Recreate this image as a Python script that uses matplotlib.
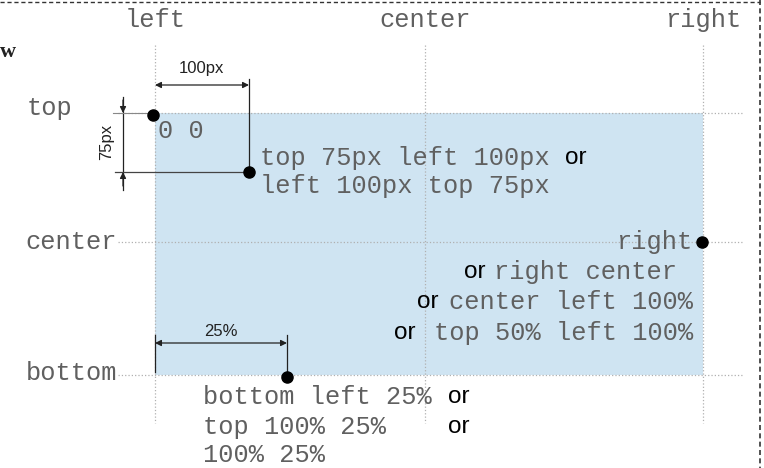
import matplotlib
matplotlib.use("Agg")
import matplotlib.pyplot as plt

# ---- diagram data (pixel space of the 764x468 canvas) ----
col_labels = ["left", "center", "right"]
col_x = [155, 425, 703]
row_labels = ["top", "center", "bottom"]
row_y = [113, 242, 375]
row_label_y = [108, 242, 373]

box_x = [155, 703]
box_y = [113, 375]

dot_x = [153, 249, 702, 287]
dot_y = [115, 172, 242, 377]

mono_texts = ["0 0", "top 75px left 100px", "left 100px top 75px",
              "right", "right center", "center left 100%", "top 50% left 100%",
              "bottom left 25%", "top 100% 25%", "100% 25%"]
mono_x = [158, 260, 260, 692, 677, 693, 693, 203, 203, 203]
mono_y = [131, 158, 186, 242, 272, 302, 333, 397, 427, 455]
mono_ha = ["left", "left", "left", "right", "right", "right", "right", "left", "left", "left"]

or_x = [565, 464, 417, 394, 448, 448]
or_y = [158, 272, 302, 333, 397, 427]

dim_labels = ["100px", "75px", "25%"]

MONO = "Liberation Mono"
SANS = "Liberation Sans"
GRAY = "#606060"
GUIDE = "#b0b0b0"
FS = 18.3

fig = plt.figure(figsize=(7.64, 4.68), dpi=100)
ax = fig.add_axes([0, 0, 1, 1])
ax.set_xlim(0, 764)
ax.set_ylim(468, 0)
ax.axis("off")

# blue box
ax.fill_between(box_x, box_y[0], box_y[1], color="#cfe4f2", zorder=0, lw=0)

# dashed page border
ax.plot([0, 760], [1.5, 1.5], color="#333333", ls=(0, (3, 2)), lw=1)
ax.plot([760, 760], [0, 468], color="#333333", ls=(0, (3, 2)), lw=1.2)

# guides
for x in col_x:
    ax.plot([x, x], [45, 423], color=GUIDE, ls=":", lw=0.9, zorder=1)
for y, lab, ly in zip(row_y, row_labels, row_label_y):
    ax.plot([118, 743], [y, y], color=GUIDE, ls=":", lw=0.9, zorder=1)
    ax.text(72 if lab == "top" else 117, ly, lab, family=MONO, fontsize=FS,
            color=GRAY, ha="right", va="center")
for x, lab in zip(col_x, col_labels):
    ax.text(x, 20, lab, family=MONO, fontsize=FS, color=GRAY, ha="center", va="center")

# partial serif letter at the left edge
ax.text(0, 52, "w", family="Liberation Serif", fontsize=16, color="#222222",
        ha="left", va="center", weight="bold")

# dimension lines
dimc = "#222222"
arrow_kw = dict(arrowstyle="<|-|>", color=dimc, lw=0.9, mutation_scale=9,
                shrinkA=0, shrinkB=0)
# 100px
ax.plot([249, 249], [79, 172], color=dimc, lw=0.9)
ax.annotate("", xy=(249, 85), xytext=(155, 85), arrowprops=arrow_kw)
ax.text(201, 69, dim_labels[0], family=SANS, fontsize=12, color=dimc,
        ha="center", va="center")
# 75px
ax.plot([123, 123], [97, 190], color=dimc, lw=0.9)
ax.plot([115, 249], [172, 172], color="#444444", lw=0.9)
ax.plot([113, 155], [113, 113], color="#888888", lw=0.8)
one_kw = dict(arrowstyle="-|>", color=dimc, lw=0.9, mutation_scale=9,
              shrinkA=0, shrinkB=0)
ax.annotate("", xy=(123, 113), xytext=(123, 100), arrowprops=one_kw)
ax.annotate("", xy=(123, 172), xytext=(123, 186), arrowprops=one_kw)
ax.text(107, 142, dim_labels[1], family=SANS, fontsize=12, color=dimc,
        ha="center", va="center", rotation=90)
# 25%
ax.plot([155, 155], [335, 372], color=dimc, lw=0.9)
ax.plot([287, 287], [335, 377], color=dimc, lw=0.9)
ax.annotate("", xy=(287, 343), xytext=(155, 343), arrowprops=arrow_kw)
ax.text(221, 331, dim_labels[2], family=SANS, fontsize=12, color=dimc,
        ha="center", va="center")

# dots
ax.plot(dot_x, dot_y, "o", color="black", ms=8, zorder=5)

# texts
for t, x, y, ha in zip(mono_texts, mono_x, mono_y, mono_ha):
    ax.text(x, y, t, family=MONO, fontsize=FS, color=GRAY, ha=ha, va="center")
for x, y in zip(or_x, or_y):
    ax.text(x, y, "or", family=SANS, fontsize=17.5, color="#000000", ha="left", va="center")

fig.savefig("out.png", dpi=100)
